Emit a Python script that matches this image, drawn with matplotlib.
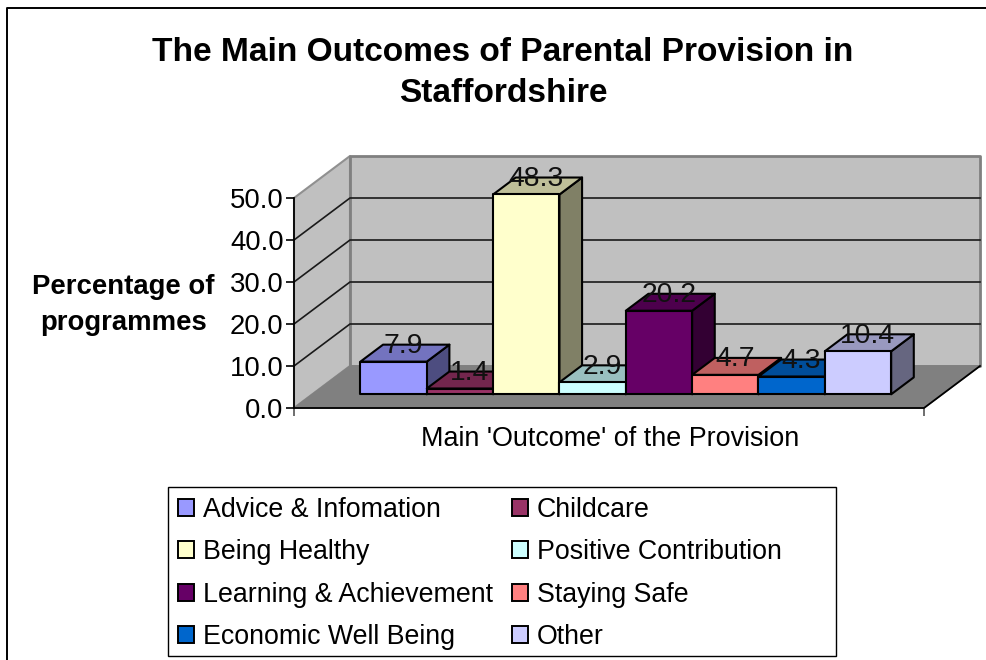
import matplotlib
matplotlib.use("Agg")
import matplotlib.pyplot as plt
from matplotlib.colors import to_rgb
from matplotlib.lines import Line2D
from matplotlib.patches import Patch, Polygon, Rectangle

plt.rcParams['font.family'] = ['Liberation Sans', 'DejaVu Sans']

W, H = 987, 660

categories = ["Advice & Infomation", "Childcare", "Being Healthy", "Positive Contribution",
              "Learning & Achievement", "Staying Safe", "Economic Well Being", "Other"]
values = [7.9, 1.4, 48.3, 2.9, 20.2, 4.7, 4.3, 10.4]
colors = ["#9999FF", "#993366", "#FFFFCC", "#CCFFFF", "#660066", "#FF8080", "#0066CC", "#CCCCFF"]
yticks = [0, 10, 20, 30, 40, 50]
ytick_labels = ["0.0", "10.0", "20.0", "30.0", "40.0", "50.0"]

# fake 3d: how far the back wall sits from the front plane, in data units
DX = 0.844
DY = 10.0
D1 = 0.326    # front of the bars
D2 = 0.73     # back of the bars
XMIN, XMAX = -0.726, 8.77
BAR_SCALE = 0.985


def proj(x, y, d=0.0):
    return (x + d * DX, y + d * DY)


def shade(c, f):
    return tuple(v * f for v in to_rgb(c))


def poly(ax, pts, fc, ec, lw=1.5, z=1):
    ax.add_patch(Polygon(pts, closed=True, facecolor=fc, edgecolor=ec, linewidth=lw,
                         joinstyle="round", zorder=z, clip_on=False))


fig = plt.figure(figsize=(W / 100, H / 100), dpi=100)
ax = fig.add_axes([294 / W, 1 - 408 / H, 630 / W, 210 / H])
ax.set_xlim(XMIN, XMAX)
ax.set_ylim(0, 50)
ax.patch.set_visible(False)
for s in ax.spines.values():
    s.set_visible(False)

# walls and floor
poly(ax, [proj(XMIN, 0), proj(XMIN, 50), proj(XMIN, 50, 1), proj(XMIN, 0, 1)], "#C0C0C0", "#909090", 1.5)
poly(ax, [proj(XMIN, 0, 1), proj(XMIN, 50, 1), proj(XMAX, 50, 1), proj(XMAX, 0, 1)], "#C0C0C0", "#808080", 2)
poly(ax, [proj(XMIN, 0), proj(XMAX, 0), proj(XMAX, 0, 1), proj(XMIN, 0, 1)], "#808080", "#808080", 1)

for t in yticks[1:-1]:
    a, b, c = proj(XMIN, t), proj(XMIN, t, 1), proj(XMAX, t, 1)
    ax.plot([a[0], b[0], c[0]], [a[1], b[1], c[1]], color="#1a1a1a", lw=1.2, zorder=2, clip_on=False)

# front edges of the floor
a, b = proj(XMAX, 0), proj(XMAX, 0, 1)
ax.plot([XMIN, XMAX, b[0]], [0, 0, b[1]], color="black", lw=1.3, zorder=3, clip_on=False)

# bars, back faces first
for i, (v, c) in enumerate(zip(values, colors)):
    v = v * BAR_SCALE
    x0, x1 = i, i + 1
    poly(ax, [proj(x1, 0, D1), proj(x1, v, D1), proj(x1, v, D2), proj(x1, 0, D2)], shade(c, 0.5), "black", z=4 + i)
    poly(ax, [proj(x0, v, D1), proj(x1, v, D1), proj(x1, v, D2), proj(x0, v, D2)], shade(c, 0.75), "black", z=4 + i)
    poly(ax, [proj(x0, 0, D1), proj(x1, 0, D1), proj(x1, v, D1), proj(x0, v, D1)], c, "black", z=4 + i)

for i, v in enumerate(values):
    tx = proj(i + 0.5, 0, 0.5)[0]
    ty = proj(0, v * BAR_SCALE, D2)[1]
    ax.text(tx, ty - 0.3, f"{v:.1f}", ha="center", va="center", fontsize=20.3, color="#111111", zorder=20)

ax.set_xticks([XMIN, XMAX], ["", ""])
ax.set_yticks(yticks, ytick_labels, fontsize=19.8)
ax.tick_params(axis="y", direction="out", length=6, width=1.2, color="black", pad=1.5)
ax.tick_params(axis="x", direction="out", length=6, width=1.2, color="#555555")
ax.spines["left"].set_visible(True)
ax.spines["left"].set_linewidth(1.3)
ax.spines["left"].set_zorder(30)

fig.text(503 / W, 1 - 73 / H, "The Main Outcomes of Parental Provision in\nStaffordshire",
         ha="center", va="center", fontsize=24.1, fontweight="bold", linespacing=1.39)
fig.text(123.5 / W, 1 - 305.5 / H, "Percentage of\nprogrammes", ha="center", va="center",
         fontsize=19.8, fontweight="bold", linespacing=1.5)
fig.text(610 / W, 1 - 438.5 / H, "Main 'Outcome' of the Provision", ha="center", va="center", fontsize=19.4)

# legend box is wider than its entries, so the frame is drawn apart
fig.add_artist(Rectangle((168 / W, 1 - 656 / H), 668 / W, 169 / H, transform=fig.transFigure,
                         facecolor="white", edgecolor="black", linewidth=1.0))
# legend fills by column, the chart reads by row
order = [0, 2, 4, 6, 1, 3, 5, 7]
handles = [Patch(facecolor=colors[i], edgecolor="black", linewidth=1.4) for i in order]
leg = fig.legend(handles, [categories[i] for i in order], ncol=2, fontsize=19.3, frameon=False,
                 loc="upper left", bbox_to_anchor=(178 / W, 1 - 497 / H), borderaxespad=0,
                 handlelength=0.6, handleheight=0.6, handletextpad=0.33, labelspacing=0.61,
                 columnspacing=0.71, borderpad=0)
leg.set_zorder(5)

# chart area border, cut by the image on two sides
fig.add_artist(Line2D([6.5 / W, 6.5 / W, 986 / W], [0, 1 - 7.5 / H, 1 - 7.5 / H], color="black", lw=1.4))

fig.savefig("out.png", dpi=100)
